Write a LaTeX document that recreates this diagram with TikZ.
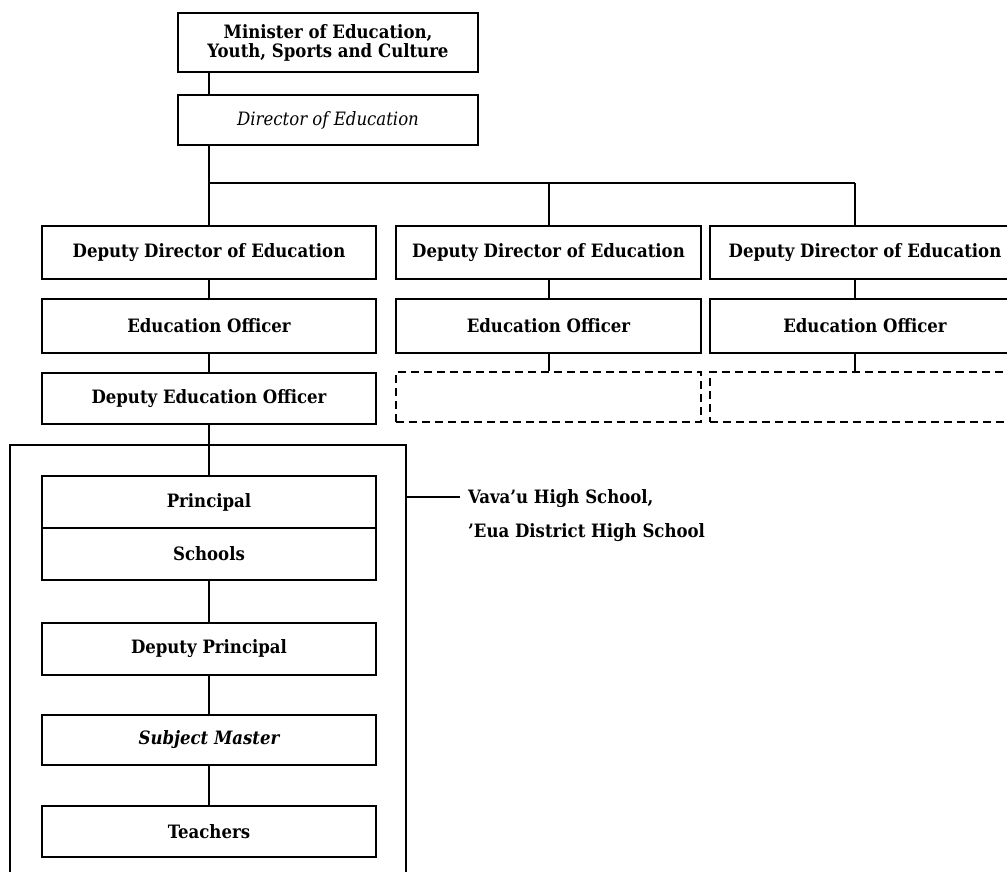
\documentclass[tikz,border=0pt]{standalone}
\usepackage{fontspec}
\setmainfont{DejaVu Serif Condensed}[BoldFont={DejaVu Serif Condensed Bold},ItalicFont={DejaVu Serif Condensed Italic},BoldItalicFont={DejaVu Serif Condensed Bold Italic}]
\begin{document}
\begin{tikzpicture}[x=1pt,y=-1pt,
  box/.style={draw, line width=2.2pt, minimum width=334pt, minimum height=52pt,
    inner sep=0pt, font=\fontsize{18.4}{21}\selectfont\bfseries, align=center},
  colbox/.style={box, minimum width=305pt},
  topbox/.style={box, minimum width=300pt},
  ghost/.style={draw, line width=1.6pt, dash pattern=on 8pt off 5pt,
    minimum width=305pt, minimum height=50pt, inner sep=0pt},
  link/.style={line width=2.2pt},
  frame/.style={line width=2.8pt},
  note/.style={font=\fontsize{18.4}{34}\selectfont\bfseries, align=left, anchor=west, inner sep=0pt}]
\useasboundingbox (0,0) rectangle (1007,872);
\clip (0,0) rectangle (1007,872);

% top of the hierarchy
\node[topbox, minimum height=59pt] (min) at (328,42.5) {Minister of Education,\\[-2pt]Youth, Sports and Culture};
\node[topbox, minimum height=50pt] (dir) at (328,120) {\mdseries\itshape Director of Education};

% branch points of the bus line
\coordinate (b1) at (209,183);
\coordinate (b2) at (549,183);
\coordinate (b3) at (855,183);

% three deputy directors
\node[box, minimum height=53pt] (dd1) at (209,252.5) {Deputy Director of Education};
\node[colbox, minimum height=53pt] (dd2) at (548.5,252.5) {Deputy Director of Education};
\node[colbox, minimum width=310pt, minimum height=53pt] (dd3) at (865,252.5) {Deputy Director of Education};

% education officers
\node[box, minimum height=54pt] (eo1) at (209,326) {Education Officer};
\node[colbox, minimum height=54pt] (eo2) at (548.5,326) {Education Officer};
\node[colbox, minimum width=310pt, minimum height=54pt] (eo3) at (865,326) {Education Officer};

% third level
\node[box, minimum height=51pt] (deo) at (209,398.5) {Deputy Education Officer};
\node[ghost] (gh2) at (548.5,397) {};
\node[ghost, minimum width=310pt] (gh3) at (865,397) {};

% schools block
\coordinate (fl) at (10,445);
\coordinate (fr) at (406,445);
\draw[frame] (fl |- 0,880) -- (fl) -- (fr) -- (fr |- 0,880);
\node[box] (prin) at (209,502) {Principal};
\node[box] (sch) at (209,554) {Schools};
\node[box] (dp) at (209,649) {Deputy Principal};
\node[box, minimum height=50pt] (sm) at (209,740) {\itshape Subject Master};
\node[box, minimum height=51pt] (tea) at (209,831.5) {Teachers};

% side note
\coordinate (fn) at (406,497);
\node[note] (lbl) at (468,516) {Vava'u High School,\\'Eua District High School};
\draw[link] (fn) -- (fn -| 460,0);

% connectors
\draw[link] (min.south -| b1) -- (dir.north -| b1);
\draw[link] (dir.south -| b1) -- (b1) -- (b3);
\draw[link] (b1) -- (dd1.north);
\draw[link] (b2) -- (b2 |- dd2.north);
\draw[link] (b3) -- (b3 |- dd3.north);
\draw[link] (dd1) -- (eo1);
\draw[link] (dd2.south -| b2) -- (eo2.north -| b2);
\draw[link] (dd3.south -| b3) -- (eo3.north -| b3);
\draw[link] (eo1) -- (deo);
\draw[link] (eo2.south -| b2) -- (gh2.north -| b2);
\draw[link] (eo3.south -| b3) -- (gh3.north -| b3);
\draw[link] (deo) -- (prin);
\draw[link] (sch) -- (dp);
\draw[link] (dp) -- (sm);
\draw[link] (sm) -- (tea);
\end{tikzpicture}
\end{document}
